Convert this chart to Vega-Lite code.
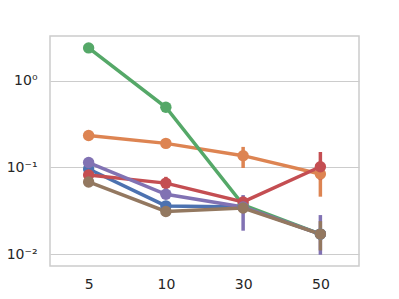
{
  "$schema": "https://vega.github.io/schema/vega-lite/v6.json",
  "width": 309,
  "height": 230,
  "autosize": "none",
  "padding": {"left": 50, "top": 36, "right": 40, "bottom": 33},
  "background": "white",
  "config": {
    "view": {"stroke": "#cccccc", "strokeWidth": 1.5},
    "font": "DejaVu Sans"
  },
  "data": {
    "values": [
      {"s": "a", "n": "5", "v": 0.096},
      {"s": "a", "n": "10", "v": 0.036},
      {"s": "a", "n": "30", "v": 0.035},
      {"s": "a", "n": "50", "v": 0.017},
      {"s": "b", "n": "5", "v": 0.234},
      {"s": "b", "n": "10", "v": 0.19},
      {"s": "b", "n": "30", "v": 0.137, "lo": 0.0986, "hi": 0.173},
      {"s": "b", "n": "50", "v": 0.084, "lo": 0.046, "hi": 0.116},
      {"s": "c", "n": "5", "v": 2.41},
      {"s": "c", "n": "10", "v": 0.497},
      {"s": "c", "n": "30", "v": 0.037},
      {"s": "c", "n": "50", "v": 0.017},
      {"s": "d", "n": "5", "v": 0.082},
      {"s": "d", "n": "10", "v": 0.066, "lo": 0.0565, "hi": 0.078},
      {"s": "d", "n": "30", "v": 0.04},
      {"s": "d", "n": "50", "v": 0.102, "lo": 0.0716, "hi": 0.151},
      {"s": "e", "n": "5", "v": 0.114},
      {"s": "e", "n": "10", "v": 0.049},
      {"s": "e", "n": "30", "v": 0.035, "lo": 0.0186, "hi": 0.048},
      {"s": "e", "n": "50", "v": 0.017, "lo": 0.0098, "hi": 0.0282},
      {"s": "f", "n": "5", "v": 0.068},
      {"s": "f", "n": "10", "v": 0.031, "lo": 0.029, "hi": 0.033},
      {"s": "f", "n": "30", "v": 0.034},
      {"s": "f", "n": "50", "v": 0.017, "lo": 0.011, "hi": 0.024}
    ]
  },
  "encoding": {
    "x": {
      "field": "n",
      "type": "ordinal",
      "sort": ["5", "10", "30", "50"],
      "scale": {"type": "point", "padding": 0.5},
      "axis": {
        "title": null,
        "labelAngle": 0,
        "ticks": false,
        "domain": false,
        "grid": false,
        "labelFontSize": 14,
        "labelColor": "#262626",
        "labelPadding": 11
      }
    },
    "color": {
      "field": "s",
      "type": "nominal",
      "scale": {
        "domain": ["a", "b", "c", "d", "e", "f"],
        "range": ["#4c72b0", "#dd8452", "#55a868", "#c44e52", "#8172b3", "#937860"]
      },
      "legend": null
    }
  },
  "layer": [
    {
      "transform": [{"filter": "datum.lo != null"}],
      "mark": {"type": "rule", "strokeWidth": 3.5},
      "encoding": {
        "y": {"field": "lo", "type": "quantitative", "scale": {"type": "log", "domain": [0.00727, 3.31], "nice": false}},
        "y2": {"field": "hi"}
      }
    },
    {
      "mark": {"type": "line", "strokeWidth": 3.5},
      "encoding": {
        "y": {
          "field": "v",
          "type": "quantitative",
          "scale": {"type": "log", "domain": [0.00727, 3.31], "nice": false},
          "axis": {
            "title": null,
            "values": [0.01, 0.1, 1],
            "labelExpr": "datum.value >= 0.5 ? '10⁰' : datum.value >= 0.05 ? '10⁻¹' : '10⁻²'",
            "ticks": false,
            "domain": false,
            "grid": true,
            "gridColor": "#cccccc",
            "gridWidth": 1.2,
            "labelFontSize": 14,
            "labelColor": "#262626",
            "labelPadding": 13
          }
        },
        "detail": {"field": "s"}
      }
    },
    {
      "mark": {"type": "point", "filled": true, "size": 130, "opacity": 1},
      "encoding": {
        "y": {"field": "v", "type": "quantitative"}
      }
    }
  ]
}
